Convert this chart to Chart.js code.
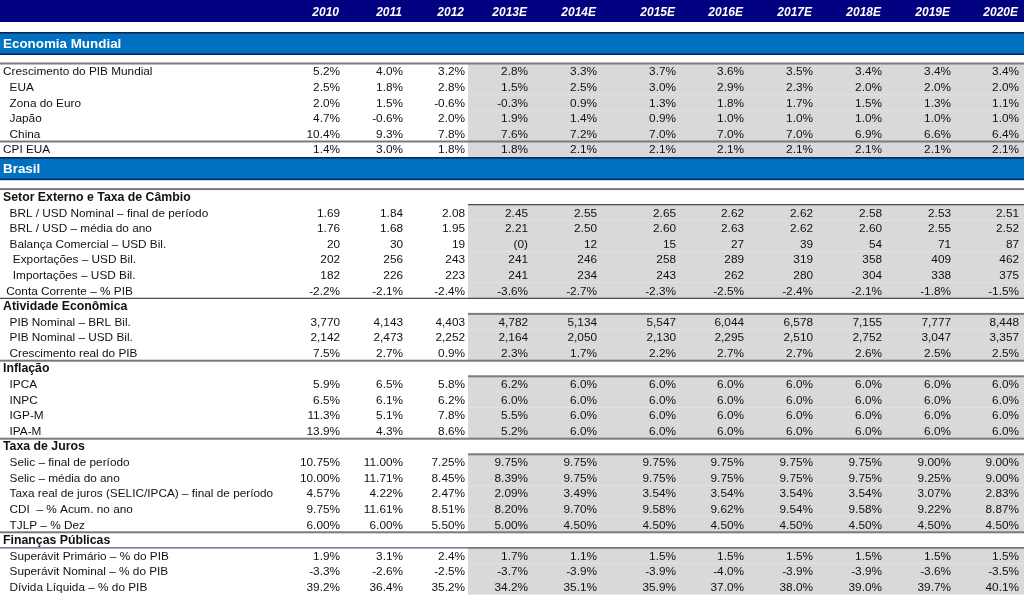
<!DOCTYPE html>
<html>
<head>
<meta charset="utf-8">
<script src="https://cdn.jsdelivr.net/npm/chart.js"></script>
<style>
  html, body { margin: 0; padding: 0; background: #fff; }
  #wrap { width: 1024px; height: 596px; }
</style>
</head>
<body>
<div id="wrap"><canvas id="table-chart" width="1024" height="596"></canvas></div>
<script>
// column headers, estimates start at 2013E
const years = ['2010', '2011', '2012', '2013E', '2014E', '2015E', '2016E', '2017E', '2018E', '2019E', '2020E'];
const firstEstimate = 3;

// Economia Mundial (% a.a.)
const pibMundial = [5.2, 4.0, 3.2, 2.8, 3.3, 3.7, 3.6, 3.5, 3.4, 3.4, 3.4];
const pibEua = [2.5, 1.8, 2.8, 1.5, 2.5, 3.0, 2.9, 2.3, 2.0, 2.0, 2.0];
const pibZonaEuro = [2.0, 1.5, -0.6, -0.3, 0.9, 1.3, 1.8, 1.7, 1.5, 1.3, 1.1];
const pibJapao = [4.7, -0.6, 2.0, 1.9, 1.4, 0.9, 1.0, 1.0, 1.0, 1.0, 1.0];
const pibChina = [10.4, 9.3, 7.8, 7.6, 7.2, 7.0, 7.0, 7.0, 6.9, 6.6, 6.4];
const cpiEua = [1.4, 3.0, 1.8, 1.8, 2.1, 2.1, 2.1, 2.1, 2.1, 2.1, 2.1];

// Setor Externo e Taxa de Cambio
const brlUsdFinal = [1.69, 1.84, 2.08, 2.45, 2.55, 2.65, 2.62, 2.62, 2.58, 2.53, 2.51];
const brlUsdMedia = [1.76, 1.68, 1.95, 2.21, 2.50, 2.60, 2.63, 2.62, 2.60, 2.55, 2.52];
const balancaComercial = [20, 30, 19, -0.3, 12, 15, 27, 39, 54, 71, 87];
const exportacoes = [202, 256, 243, 241, 246, 258, 289, 319, 358, 409, 462];
const importacoes = [182, 226, 223, 241, 234, 243, 262, 280, 304, 338, 375];
const contaCorrente = [-2.2, -2.1, -2.4, -3.6, -2.7, -2.3, -2.5, -2.4, -2.1, -1.8, -1.5];

// Atividade Economica
const pibBrl = [3770, 4143, 4403, 4782, 5134, 5547, 6044, 6578, 7155, 7777, 8448];
const pibUsd = [2142, 2473, 2252, 2164, 2050, 2130, 2295, 2510, 2752, 3047, 3357];
const pibReal = [7.5, 2.7, 0.9, 2.3, 1.7, 2.2, 2.7, 2.7, 2.6, 2.5, 2.5];

// Inflacao
const ipca = [5.9, 6.5, 5.8, 6.2, 6.0, 6.0, 6.0, 6.0, 6.0, 6.0, 6.0];
const inpc = [6.5, 6.1, 6.2, 6.0, 6.0, 6.0, 6.0, 6.0, 6.0, 6.0, 6.0];
const igpm = [11.3, 5.1, 7.8, 5.5, 6.0, 6.0, 6.0, 6.0, 6.0, 6.0, 6.0];
const ipam = [13.9, 4.3, 8.6, 5.2, 6.0, 6.0, 6.0, 6.0, 6.0, 6.0, 6.0];

// Taxa de Juros
const selicFinal = [10.75, 11.00, 7.25, 9.75, 9.75, 9.75, 9.75, 9.75, 9.75, 9.00, 9.00];
const selicMedia = [10.00, 11.71, 8.45, 8.39, 9.75, 9.75, 9.75, 9.75, 9.75, 9.25, 9.00];
const juroReal = [4.57, 4.22, 2.47, 2.09, 3.49, 3.54, 3.54, 3.54, 3.54, 3.07, 2.83];
const cdi = [9.75, 11.61, 8.51, 8.20, 9.70, 9.58, 9.62, 9.54, 9.58, 9.22, 8.87];
const tjlp = [6.00, 6.00, 5.50, 5.00, 4.50, 4.50, 4.50, 4.50, 4.50, 4.50, 4.50];

// Financas Publicas
const superavitPrimario = [1.9, 3.1, 2.4, 1.7, 1.1, 1.5, 1.5, 1.5, 1.5, 1.5, 1.5];
const superavitNominal = [-3.3, -2.6, -2.5, -3.7, -3.9, -3.9, -4.0, -3.9, -3.9, -3.6, -3.5];
const dividaLiquida = [39.2, 36.4, 35.2, 34.2, 35.1, 35.9, 37.0, 38.0, 39.0, 39.7, 40.1];

// ---- layout (widths / heights, like spreadsheet columns and rows) ----
const colWidths = [280, 63, 63, 62, 63, 69, 79, 68, 69, 69, 69, 68];
const xMax = 1024;
const yMax = 596;
const ROW = 15.6;

const rows = [
  { kind: 'header', h: 22 },
  { kind: 'gap', h: 10 },
  { kind: 'band', h: 23, label: 'Economia Mundial' },
  { kind: 'gap', h: 8.5 },
  { kind: 'data', label: 'Crescimento do PIB Mundial', values: pibMundial, fmt: 'pct1', line: 'gray' },
  { kind: 'data', label: '  EUA', values: pibEua, fmt: 'pct1' },
  { kind: 'data', label: '  Zona do Euro', values: pibZonaEuro, fmt: 'pct1' },
  { kind: 'data', label: '  Japão', values: pibJapao, fmt: 'pct1' },
  { kind: 'data', label: '  China', values: pibChina, fmt: 'pct1' },
  { kind: 'data', label: 'CPI EUA', values: cpiEua, fmt: 'pct1', line: 'gray' },
  { kind: 'band', h: 23, label: 'Brasil' },
  { kind: 'gap', h: 9 },
  { kind: 'section', label: 'Setor Externo e Taxa de Câmbio', line: 'gray' },
  { kind: 'data', label: '  BRL / USD Nominal – final de período', values: brlUsdFinal, fmt: 'dec2', line: 'darkR' },
  { kind: 'data', label: '  BRL / USD – média do ano', values: brlUsdMedia, fmt: 'dec2' },
  { kind: 'data', label: '  Balança Comercial – USD Bil.', values: balancaComercial, fmt: 'int' },
  { kind: 'data', label: '   Exportações – USD Bil.', values: exportacoes, fmt: 'int' },
  { kind: 'data', label: '   Importações – USD Bil.', values: importacoes, fmt: 'int' },
  { kind: 'data', label: ' Conta Corrente – % PIB', values: contaCorrente, fmt: 'pct1' },
  { kind: 'section', label: 'Atividade Econômica', line: 'dark' },
  { kind: 'data', label: '  PIB Nominal – BRL Bil.', values: pibBrl, fmt: 'thou', line: 'grayR' },
  { kind: 'data', label: '  PIB Nominal – USD Bil.', values: pibUsd, fmt: 'thou' },
  { kind: 'data', label: '  Crescimento real do PIB', values: pibReal, fmt: 'pct1' },
  { kind: 'section', label: 'Inflação', line: 'gray' },
  { kind: 'data', label: '  IPCA', values: ipca, fmt: 'pct1', line: 'grayR' },
  { kind: 'data', label: '  INPC', values: inpc, fmt: 'pct1' },
  { kind: 'data', label: '  IGP-M', values: igpm, fmt: 'pct1' },
  { kind: 'data', label: '  IPA-M', values: ipam, fmt: 'pct1' },
  { kind: 'section', label: 'Taxa de Juros', line: 'gray' },
  { kind: 'data', label: '  Selic – final de período', values: selicFinal, fmt: 'pct2', line: 'grayR' },
  { kind: 'data', label: '  Selic – média do ano', values: selicMedia, fmt: 'pct2' },
  { kind: 'data', label: '  Taxa real de juros (SELIC/IPCA) – final de período', values: juroReal, fmt: 'pct2' },
  { kind: 'data', label: '  CDI  – % Acum. no ano', values: cdi, fmt: 'pct2' },
  { kind: 'data', label: '  TJLP – % Dez', values: tjlp, fmt: 'pct2' },
  { kind: 'section', label: 'Finanças Públicas', line: 'gray' },
  { kind: 'data', label: '  Superávit Primário – % do PIB', values: superavitPrimario, fmt: 'pct1', line: 'navyL' },
  { kind: 'data', label: '  Superávit Nominal – % do PIB', values: superavitNominal, fmt: 'pct1' },
  { kind: 'data', label: '  Dívida Líquida – % do PIB', values: dividaLiquida, fmt: 'pct1' }
];

// row tops in y units
let acc = 0;
rows.forEach(r => {
  if (!r.h) r.h = ROW;
  r.top = acc;
  acc += r.h;
});

const colEdges = [0];
colWidths.forEach(w => colEdges.push(colEdges[colEdges.length - 1] + w));

function fmtValue(v, fmt) {
  if (fmt === 'pct1') return v.toFixed(1) + '%';
  if (fmt === 'pct2') return v.toFixed(2) + '%';
  if (fmt === 'dec2') return v.toFixed(2);
  if (fmt === 'int') return v < 0 ? '(' + Math.abs(Math.round(v)) + ')' : String(Math.round(v));
  if (fmt === 'thou') return String(Math.round(v)).replace(/\B(?=(\d{3})+(?!\d))/g, ',');
  return String(v);
}

// one point per cell; text drawn at the point the scales give
const cells = [];
rows.forEach(r => {
  const cy = r.top + r.h / 2;
  if (r.kind === 'header') {
    years.forEach((yr, i) => {
      cells.push({ x: colEdges[i + 2], y: cy, text: yr, style: 'header', align: 'right' });
    });
  } else if (r.kind === 'band') {
    cells.push({ x: 0, y: cy, text: r.label, style: 'band', align: 'left' });
  } else if (r.kind === 'section') {
    cells.push({ x: 0, y: cy, text: r.label, style: 'section', align: 'left' });
  } else if (r.kind === 'data') {
    cells.push({ x: 0, y: cy, text: r.label, style: 'label', align: 'left' });
    r.values.forEach((v, i) => {
      cells.push({ x: colEdges[i + 2], y: cy, text: fmtValue(v, r.fmt), style: 'value', align: 'right' });
    });
  }
});

const FONT = '"Liberation Sans", Arial, sans-serif';
const styles = {
  header: { font: 'italic bold 12px ' + FONT, color: '#ffffff', dx: -4, dy: 1.5 },
  band: { font: 'bold 13.4px ' + FONT, color: '#ffffff', dx: 3, dy: 0.5 },
  section: { font: 'bold 12.3px ' + FONT, color: '#111111', dx: 3, dy: 0.5 },
  label: { font: '11.8px ' + FONT, color: '#111111', dx: 3, dy: 0.8 },
  value: { font: '11.8px ' + FONT, color: '#111111', dx: -3, dy: 0.8 }
};

const tablePlugin = {
  id: 'tableCells',
  beforeDatasetsDraw(chart) {
    const { ctx, scales: { x, y } } = chart;
    const left = x.getPixelForValue(0);
    const right = x.getPixelForValue(xMax);
    const grayLeft = x.getPixelForValue(colEdges[firstEstimate + 1]);
    ctx.save();
    rows.forEach(r => {
      const top = y.getPixelForValue(r.top);
      const bottom = y.getPixelForValue(r.top + r.h);
      if (r.kind === 'header') {
        ctx.fillStyle = '#000080';
        ctx.fillRect(left, top, right - left, bottom - top);
      } else if (r.kind === 'band') {
        ctx.fillStyle = '#0070c0';
        ctx.fillRect(left, top, right - left, bottom - top);
        ctx.fillStyle = '#0d2350';
        ctx.fillRect(left, top, right - left, 1.5);
        ctx.fillRect(left, bottom - 1.5, right - left, 1.5);
      } else if (r.kind === 'data') {
        ctx.fillStyle = '#d9d9d9';
        ctx.fillRect(grayLeft, top, right - grayLeft, bottom - top);
      }
    });
    rows.forEach(r => {
      if (!r.line) return;
      const yy = y.getPixelForValue(r.top);
      if (r.line === 'gray' || r.line === 'grayR') {
        const from = r.line === 'gray' ? left : grayLeft;
        ctx.fillStyle = '#7a7a7a';
        ctx.fillRect(from, yy - 1, right - from, 2);
      } else if (r.line === 'dark' || r.line === 'darkR') {
        const from = r.line === 'dark' ? left : grayLeft;
        ctx.fillStyle = '#222222';
        ctx.fillRect(from, yy - 0.5, right - from, 1);
      } else if (r.line === 'navyL') {
        ctx.fillStyle = '#1f2f7a';
        ctx.fillRect(left, yy - 0.5, grayLeft - left, 1);
        ctx.fillStyle = '#222222';
        ctx.fillRect(grayLeft, yy - 0.5, right - grayLeft, 1);
      }
    });
    ctx.restore();
  },
  afterDatasetsDraw(chart) {
    const ctx = chart.ctx;
    const meta = chart.getDatasetMeta(0);
    const data = chart.data.datasets[0].data;
    ctx.save();
    ctx.textBaseline = 'middle';
    meta.data.forEach((pt, i) => {
      const cell = data[i];
      const s = styles[cell.style];
      ctx.font = s.font;
      ctx.fillStyle = s.color;
      ctx.textAlign = cell.align;
      ctx.fillText(cell.text, pt.x + s.dx, pt.y + s.dy);
    });
    ctx.restore();
  }
};

const ctx = document.getElementById('table-chart').getContext('2d');
const chart = new Chart(ctx, {
  type: 'scatter',
  data: {
    datasets: [{
      data: cells,
      pointRadius: 0,
      pointHoverRadius: 0
    }]
  },
  options: {
    responsive: false,
    animation: false,
    devicePixelRatio: 1,
    layout: { padding: 0 },
    events: [],
    plugins: {
      legend: { display: false },
      tooltip: { enabled: false }
    },
    scales: {
      x: { type: 'linear', min: 0, max: xMax, display: false },
      y: { type: 'linear', min: 0, max: yMax, reverse: true, display: false }
    }
  },
  plugins: [tablePlugin]
});
</script>
</body>
</html>
